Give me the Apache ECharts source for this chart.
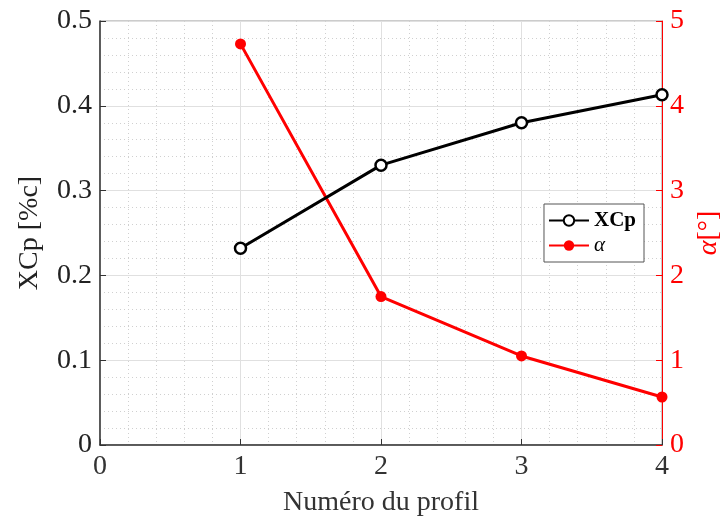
<!DOCTYPE html>
<html><head><meta charset="utf-8">
<script src="https://cdn.jsdelivr.net/npm/echarts@6/dist/echarts.min.js"></script>
<style>html,body{margin:0;padding:0;background:#fff}#c{width:726px;height:522px}</style>
</head><body><div id="c"></div>
<script>
const profiles = [1, 2, 3, 4];
const xcpValues = [0.232, 0.330, 0.380, 0.413];
const alphaValues = [4.73, 1.75, 1.05, 0.566];
const xTicks = [0, 1, 2, 3, 4];
const leftTicks = [0, 0.1, 0.2, 0.3, 0.4, 0.5];
const rightTicks = [0, 1, 2, 3, 4, 5];

const font = 'Liberation Serif';
const chart = echarts.init(document.getElementById('c'), null, {renderer: 'canvas'});
chart.setOption({
  animation: false,
  backgroundColor: '#fff',
  grid: {left: 100, right: 64, top: 21, bottom: 77, show: true, borderColor: '#999', borderWidth: 1,
         containLabel: false, outerBoundsMode: 'none'},
  legend: {
    right: 82, top: 204, orient: 'vertical', itemWidth: 40, itemHeight: 13, itemGap: 4,
    backgroundColor: '#fff', borderColor: '#555', borderWidth: 1, padding: [6, 8, 6, 4],
    textStyle: {fontFamily: font, fontSize: 21, color: '#000'},
    data: [
      {name: 'XCp', textStyle: {fontWeight: 'bold'}},
      {name: 'α', textStyle: {fontStyle: 'italic'}}
    ]
  },
  xAxis: {
    type: 'value', min: xTicks[0], max: xTicks[xTicks.length - 1], interval: 1,
    name: 'Numéro du profil', nameLocation: 'middle', nameGap: 44,
    nameTextStyle: {fontFamily: font, fontSize: 28, color: '#333'},
    axisLine: {show: true, lineStyle: {color: '#333', width: 1.5}},
    axisTick: {show: true, inside: true, length: 6, lineStyle: {color: '#333'}},
    axisLabel: {fontFamily: font, fontSize: 28, color: '#333', margin: 8},
    splitLine: {show: true, lineStyle: {color: '#e0e0e0', width: 1}},
    minorTick: {show: false, splitNumber: 5},
    minorSplitLine: {show: true, lineStyle: {color: '#d0d0d0', type: [1, 3], width: 1}}
  },
  yAxis: [
    {
      type: 'value', min: leftTicks[0], max: leftTicks[leftTicks.length - 1], interval: 0.1,
      name: 'XCp [%c]', nameLocation: 'middle', nameGap: 56, nameRotate: 90,
      nameTextStyle: {fontFamily: font, fontSize: 28, color: '#222'},
      axisLine: {show: true, lineStyle: {color: '#333', width: 1.5}},
      axisTick: {show: true, inside: true, length: 6, lineStyle: {color: '#333'}},
      axisLabel: {fontFamily: font, fontSize: 28, color: '#222', margin: 8, formatter: v => String(v)},
      splitLine: {show: true, lineStyle: {color: '#e0e0e0', width: 1}},
      minorTick: {show: false, splitNumber: 5},
      minorSplitLine: {show: true, lineStyle: {color: '#d0d0d0', type: [1, 3], width: 1}}
    },
    {
      type: 'value', min: rightTicks[0], max: rightTicks[rightTicks.length - 1], interval: 1, position: 'right',
      name: '{a|α}[°]', nameLocation: 'middle', nameGap: 20, nameRotate: 90,
      nameTextStyle: {fontFamily: font, fontSize: 28, color: '#ff0000',
        rich: {a: {fontFamily: font, fontSize: 28, color: '#ff0000', fontStyle: 'italic'}}},
      axisLine: {show: true, lineStyle: {color: '#ff0000', width: 1}},
      axisTick: {show: true, inside: true, length: 6, lineStyle: {color: '#ff0000'}},
      axisLabel: {fontFamily: font, fontSize: 28, color: '#ff0000', margin: 8},
      splitLine: {show: false}
    }
  ],
  series: [
    {
      name: 'XCp', type: 'line', yAxisIndex: 0,
      data: profiles.map((p, i) => [p, xcpValues[i]]),
      symbol: 'circle', symbolSize: 11, showAllSymbol: true,
      lineStyle: {color: '#000', width: 3},
      itemStyle: {color: '#fff', borderColor: '#000', borderWidth: 2.5},
      z: 3
    },
    {
      name: 'α', type: 'line', yAxisIndex: 1,
      data: profiles.map((p, i) => [p, alphaValues[i]]),
      symbol: 'circle', symbolSize: 11,
      lineStyle: {color: '#ff0000', width: 3},
      itemStyle: {color: '#ff0000'},
      z: 2
    }
  ]
});
</script></body></html>
